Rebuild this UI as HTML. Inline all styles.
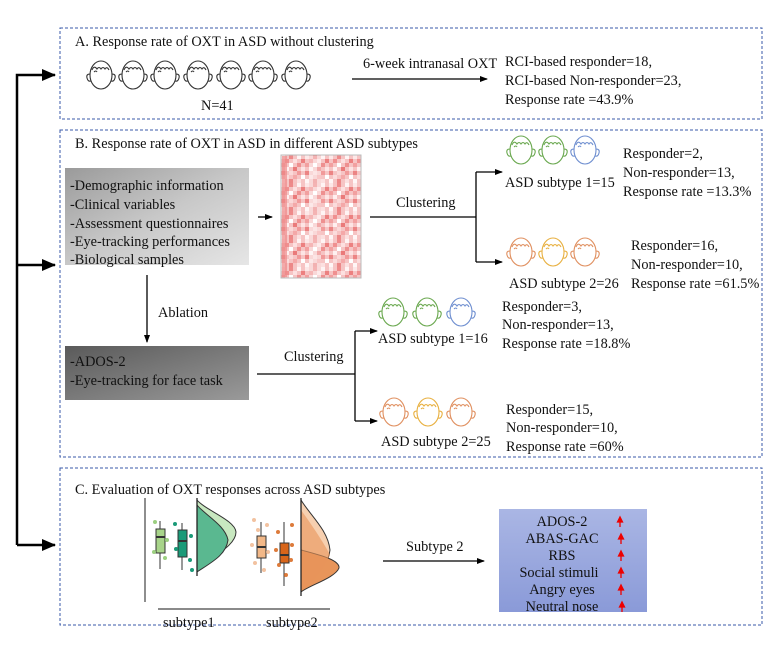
<!DOCTYPE html>
<html><head><meta charset="utf-8"><style>
body{margin:0;background:#fff;}
svg text{font-family:"Liberation Serif",serif;fill:#111;}
</style></head><body>
<svg id="s" width="772" height="649" viewBox="0 0 772 649" xmlns="http://www.w3.org/2000/svg">
<defs>
<marker id="ar" markerWidth="8" markerHeight="8" refX="7" refY="4" orient="auto" markerUnits="userSpaceOnUse"><path d="M0,1 L8,4 L0,7 z" fill="#000"/></marker>
<marker id="arb" markerWidth="14" markerHeight="12" refX="13" refY="6" orient="auto" markerUnits="userSpaceOnUse"><path d="M0,0 L14,6 L0,12 z" fill="#000"/></marker>
<linearGradient id="g1" x1="0" y1="0" x2="1" y2="1"><stop offset="0" stop-color="#9a9a9a"/><stop offset="0.5" stop-color="#c8c8c8"/><stop offset="1" stop-color="#e6e6e6"/></linearGradient>
<linearGradient id="g2" x1="0" y1="0" x2="1" y2="1"><stop offset="0" stop-color="#5a5a5a"/><stop offset="1" stop-color="#9a9a9a"/></linearGradient>
<linearGradient id="g3" x1="0" y1="0" x2="0" y2="1"><stop offset="0" stop-color="#aab6e4"/><stop offset="1" stop-color="#8a9ad8"/></linearGradient>
<pattern id="hmp" x="281" y="155" width="24" height="28" patternUnits="userSpaceOnUse">
<rect width="24" height="28" fill="#f6c4c4"/>
<rect x="0" y="0" width="4" height="4" fill="#fde8e8"/><rect x="8" y="0" width="4" height="4" fill="#ee8a8a"/><rect x="16" y="0" width="4" height="4" fill="#fff4f4"/>
<rect x="4" y="4" width="4" height="4" fill="#f09090"/><rect x="12" y="4" width="4" height="4" fill="#fde0e0"/><rect x="20" y="4" width="4" height="4" fill="#ec8080"/>
<rect x="0" y="8" width="4" height="4" fill="#f2a0a0"/><rect x="8" y="8" width="4" height="4" fill="#fff"/><rect x="16" y="8" width="4" height="4" fill="#ee9090"/>
<rect x="4" y="12" width="4" height="4" fill="#fff0f0"/><rect x="12" y="12" width="4" height="4" fill="#ea7a7a"/><rect x="20" y="12" width="4" height="4" fill="#fde4e4"/>
<rect x="0" y="16" width="4" height="4" fill="#ec8484"/><rect x="8" y="16" width="4" height="4" fill="#fbd8d8"/><rect x="16" y="16" width="4" height="4" fill="#f19a9a"/>
<rect x="4" y="20" width="4" height="4" fill="#fbdcdc"/><rect x="12" y="20" width="4" height="4" fill="#f4a8a8"/><rect x="20" y="20" width="4" height="4" fill="#fff"/>
<rect x="0" y="24" width="4" height="4" fill="#fff6f6"/><rect x="8" y="24" width="4" height="4" fill="#ec8888"/><rect x="16" y="24" width="4" height="4" fill="#fce0e0"/>
</pattern>
<g id="face" fill="none" stroke-width="1.1">
<ellipse cx="0" cy="0" rx="11" ry="14"/>
<path d="M-11,-1 q-4,0 -3,4 q1,4 4,3 M11,-1 q4,0 3,4 q-1,4 -4,3"/>
<path d="M-9,-5 q2,-5 5,-1 q2,-3 4,0 q2,-3 4,0 q2,-3 4,1"/>
<path d="M-7,-3 q2,-2 3,0"/>
</g>
<path id="rup" d="M0,9 L0,2 M-2.5,4 L0,-1 L2.5,4 Z" stroke="#e00" stroke-width="1.3" fill="#e00"/>
</defs>
<g fill="none" stroke="#3a5aa8" stroke-width="1" stroke-dasharray="3,2">
<rect x="60" y="28" width="702" height="91"/>
<rect x="60" y="130" width="702" height="327"/>
<rect x="60" y="468" width="702" height="157"/>
</g>
<g stroke="#000" stroke-width="2.5" fill="none">
<path d="M17,545 L17,75 L55,75" marker-end="url(#arb)"/>
<path d="M17,265 L55,265" marker-end="url(#arb)"/>
<path d="M17,545 L55,545" marker-end="url(#arb)"/>
</g>
<text x="75" y="46" font-size="14.3">A. Response rate of OXT in ASD without clustering</text>
<g stroke="#333">
<use href="#face" x="101" y="75"/><use href="#face" x="133" y="75"/><use href="#face" x="165" y="75"/><use href="#face" x="198" y="75"/><use href="#face" x="231" y="75"/><use href="#face" x="263" y="75"/><use href="#face" x="296" y="75"/>
</g>
<text x="201" y="110" font-size="14.3">N=41</text>
<text x="363" y="68" font-size="14.3">6-week intranasal OXT</text>
<line x1="352" y1="79" x2="487" y2="79" stroke="#000" stroke-width="1.3" marker-end="url(#ar)"/>
<text x="505" y="66" font-size="14.3">RCI-based responder=18,</text>
<text x="505" y="85" font-size="14.3">RCI-based Non-responder=23,</text>
<text x="505" y="104" font-size="14.3">Response rate =43.9%</text>
<text x="75" y="148" font-size="14.3">B. Response rate of OXT in ASD in different ASD subtypes</text>
<rect x="65" y="168" width="184" height="97" fill="url(#g1)"/>
<g font-size="14.3"><text x="70" y="190">-Demographic information</text><text x="70" y="209">-Clinical variables</text><text x="70" y="228">-Assessment questionnaires</text><text x="70" y="246">-Eye-tracking performances</text><text x="70" y="264">-Biological samples</text></g>
<line x1="258" y1="217" x2="272" y2="217" stroke="#000" stroke-width="1.3" marker-end="url(#ar)"/>
<rect x="281" y="155" width="80" height="123" fill="url(#hmp)" stroke="#bbb"/>
<rect x="282" y="156" width="5" height="121" fill="#ee8a8a" opacity="0.7"/>
<rect x="309" y="156" width="12" height="121" fill="#fff" opacity="0.35"/>
<text x="396" y="207" font-size="14.3">Clustering</text>
<line x1="370" y1="217" x2="476" y2="217" stroke="#000" stroke-width="1.3"/>
<path d="M476,172 L476,262" stroke="#000" stroke-width="1.3" fill="none"/>
<line x1="476" y1="172" x2="502" y2="172" stroke="#000" stroke-width="1.3" marker-end="url(#ar)"/>
<line x1="476" y1="262" x2="502" y2="262" stroke="#000" stroke-width="1.3" marker-end="url(#ar)"/>
<use href="#face" x="521" y="150" stroke="#6aa84f"/><use href="#face" x="553" y="150" stroke="#6aa84f"/><use href="#face" x="585" y="150" stroke="#6f8fd0"/>
<text x="505" y="187" font-size="14.3">ASD subtype 1=15</text>
<text x="623" y="158" font-size="14.3">Responder=2,</text>
<text x="623" y="177" font-size="14.3">Non-responder=13,</text>
<text x="623" y="196" font-size="14.3">Response rate =13.3%</text>
<use href="#face" x="521" y="252" stroke="#e09060"/><use href="#face" x="553" y="252" stroke="#e8b040"/><use href="#face" x="585" y="252" stroke="#e09060"/>
<text x="509" y="288" font-size="14.3">ASD subtype 2=26</text>
<text x="631" y="250" font-size="14.3">Responder=16,</text>
<text x="631" y="269" font-size="14.3">Non-responder=10,</text>
<text x="631" y="288" font-size="14.3">Response rate =61.5%</text>
<line x1="147" y1="275" x2="147" y2="342" stroke="#000" stroke-width="1.3" marker-end="url(#ar)"/>
<text x="158" y="317" font-size="14.3">Ablation</text>
<rect x="65" y="346" width="184" height="54" fill="url(#g2)"/>
<text x="70" y="366" font-size="14.3">-ADOS-2</text>
<text x="70" y="385" font-size="14.3">-Eye-tracking for face task</text>
<text x="284" y="361" font-size="14.3">Clustering</text>
<line x1="257" y1="374" x2="355" y2="374" stroke="#000" stroke-width="1.3"/>
<path d="M355,331 L355,421" stroke="#000" stroke-width="1.3" fill="none"/>
<line x1="355" y1="331" x2="377" y2="331" stroke="#000" stroke-width="1.3" marker-end="url(#ar)"/>
<line x1="355" y1="421" x2="377" y2="421" stroke="#000" stroke-width="1.3" marker-end="url(#ar)"/>
<use href="#face" x="393" y="312" stroke="#6aa84f"/><use href="#face" x="427" y="312" stroke="#6aa84f"/><use href="#face" x="461" y="312" stroke="#6f8fd0"/>
<text x="378" y="343" font-size="14.3">ASD subtype 1=16</text>
<text x="502" y="311" font-size="14.3">Responder=3,</text>
<text x="502" y="329" font-size="14.3">Non-responder=13,</text>
<text x="502" y="348" font-size="14.3">Response rate =18.8%</text>
<use href="#face" x="394" y="412" stroke="#e09060"/><use href="#face" x="428" y="412" stroke="#e8b040"/><use href="#face" x="461" y="412" stroke="#e09060"/>
<text x="381" y="446" font-size="14.3">ASD subtype 2=25</text>
<text x="506" y="414" font-size="14.3">Responder=15,</text>
<text x="506" y="432" font-size="14.3">Non-responder=10,</text>
<text x="506" y="451" font-size="14.3">Response rate =60%</text>
<text x="75" y="494" font-size="14.3">C. Evaluation of OXT responses across ASD subtypes</text>
<line x1="145" y1="498" x2="145" y2="602" stroke="#444" stroke-width="1.2"/>
<line x1="158" y1="609" x2="330" y2="609" stroke="#444" stroke-width="1.2"/>
<line x1="160" y1="521" x2="160" y2="569" stroke="#333"/><rect x="156" y="529" width="9" height="24" fill="#a8d48a" stroke="#333"/><line x1="156" y1="537" x2="165" y2="537" stroke="#333" stroke-width="2"/>
<line x1="182" y1="523" x2="182" y2="570" stroke="#333"/><rect x="178" y="530" width="9" height="27" fill="#1a9a78" stroke="#333"/><line x1="178" y1="541" x2="187" y2="541" stroke="#333" stroke-width="2"/>
<g fill="#9ccf80"><circle cx="155" cy="522" r="2"/><circle cx="167" cy="540" r="2"/><circle cx="154" cy="552" r="2"/><circle cx="165" cy="558" r="2"/></g>
<g fill="#1a9a78"><circle cx="175" cy="524" r="2"/><circle cx="191" cy="536" r="2"/><circle cx="176" cy="549" r="2"/><circle cx="190" cy="560" r="2"/><circle cx="192" cy="570" r="2"/></g>
<path d="M197,500 C205,510 235,520 236,532 C236,545 215,555 197,570 Z" fill="#c8e8c0" stroke="#333"/>
<path d="M197,505 C205,515 225,525 228,540 C226,555 212,562 197,572 Z" fill="#5ab890" stroke="#333"/>
<line x1="197" y1="498" x2="197" y2="576" stroke="#222" stroke-width="1.3"/>
<line x1="261" y1="522" x2="261" y2="573" stroke="#333"/><rect x="257" y="536" width="9" height="22" fill="#f2b888" stroke="#333"/><line x1="257" y1="547" x2="266" y2="547" stroke="#333" stroke-width="2"/>
<line x1="284" y1="522" x2="284" y2="586" stroke="#333"/><rect x="280" y="543" width="9" height="20" fill="#d8651a" stroke="#333"/><line x1="280" y1="555" x2="289" y2="555" stroke="#333" stroke-width="2"/>
<g fill="#f0b890" opacity="0.85"><circle cx="254" cy="520" r="2"/><circle cx="258" cy="530" r="2"/><circle cx="267" cy="525" r="2"/><circle cx="252" cy="545" r="2"/><circle cx="268" cy="552" r="2"/><circle cx="255" cy="563" r="2"/><circle cx="264" cy="570" r="2"/></g>
<g fill="#d8651a" opacity="0.85"><circle cx="278" cy="532" r="2"/><circle cx="292" cy="525" r="2"/><circle cx="276" cy="550" r="2"/><circle cx="292" cy="545" r="2"/><circle cx="279" cy="565" r="2"/><circle cx="291" cy="560" r="2"/><circle cx="286" cy="575" r="2"/></g>
<path d="M301,500 C310,515 328,530 330,550 C328,570 310,580 301,590 Z" fill="#f7d0b0" stroke="#333"/>
<path d="M301,550 C320,555 340,560 339,568 C335,578 310,585 301,592 Z" fill="#e8955a" stroke="#333"/>
<path d="M301,510 C312,525 325,545 330,555 C320,575 310,585 301,590 Z" fill="#e8955a" opacity="0.6"/>
<line x1="301" y1="498" x2="301" y2="596" stroke="#222" stroke-width="1.3"/>
<text x="163" y="627" font-size="14.3">subtype1</text>
<text x="266" y="627" font-size="14.3">subtype2</text>
<text x="406" y="551" font-size="14.3">Subtype 2</text>
<line x1="383" y1="561" x2="484" y2="561" stroke="#000" stroke-width="1.3" marker-end="url(#ar)"/>
<rect x="499" y="509" width="148" height="103" fill="url(#g3)"/>
<g font-size="14.3" text-anchor="middle"><text x="562" y="526">ADOS-2</text><text x="562" y="543">ABAS-GAC</text><text x="562" y="560">RBS</text><text x="559" y="577">Social stimuli</text><text x="562" y="594">Angry eyes</text><text x="562" y="611">Neutral nose</text></g>
<use href="#rup" x="620" y="518"/><use href="#rup" x="621" y="535"/><use href="#rup" x="621" y="552"/><use href="#rup" x="621" y="569"/><use href="#rup" x="621" y="586"/><use href="#rup" x="622" y="603"/>
</svg>
</body></html>
